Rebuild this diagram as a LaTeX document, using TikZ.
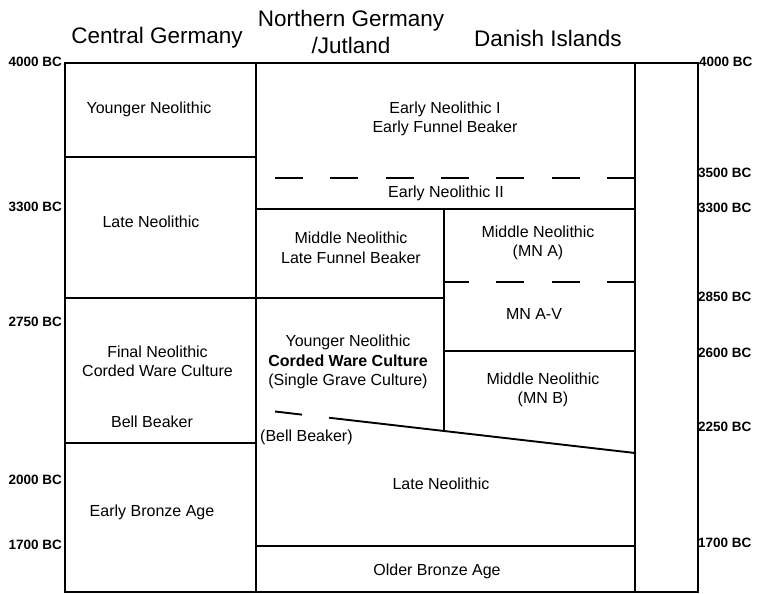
\documentclass[tikz,border=0pt]{standalone}
\usepackage{fontspec}
\setmainfont{Liberation Sans}
\begin{document}
\begin{tikzpicture}[x=1pt,y=-1pt,
  rule/.style={line width=1.9pt, line cap=rect},
  dashrule/.style={line width=1.9pt, dash pattern=on 28pt off 27.33pt},
  head/.style={font=\fontsize{22.5}{27}\selectfont, inner sep=0pt, align=center},
  cell/.style={font=\fontsize{16}{19.5}\selectfont, inner sep=0pt, align=center},
  dateL/.style={font=\fontsize{13.5}{16}\selectfont\bfseries, inner sep=0pt, anchor=east},
  dateR/.style={font=\fontsize{13.5}{16}\selectfont\bfseries, inner sep=0pt, anchor=west}]
\useasboundingbox (0,0) rectangle (758,594);

% frame and columns
\draw[rule] (65,63) rectangle (698,592);
\draw[rule] (256,63) -- (256,592);
\draw[rule] (635,63) -- (635,592);
% central germany rows
\draw[rule] (65,157) -- (256,157);
\draw[rule] (65,298) -- (256,298);
\draw[rule] (65,443) -- (256,443);
% northern / danish
\draw[dashrule] (275,178) -- (635,178);
\draw[rule] (256,209) -- (635,209);
\draw[rule] (444,209) -- (444,431);
\draw[rule] (256,298) -- (444,298);
\draw[dashrule] (635,282) -- (444,282);
\draw[rule] (444,351) -- (635,351);
\draw[line width=1.9pt, dash pattern=on 27.2pt off 27.2pt on 500pt off 0pt] (275,411.5) -- (635,453);
\draw[rule] (256,546) -- (635,546);

% headings
\node[head] (hcg) at (157,38) {Central Germany};
\node[head] (hng) at (351,32) {Northern Germany\\/Jutland};
\node[head] (hdi) at (548,38) {Danish Islands};

% left dates
\node[dateL] (l4000) at (62,62) {4000 BC};
\node[dateL] (l3300) at (62,207) {3300 BC};
\node[dateL] (l2750) at (62,322) {2750 BC};
\node[dateL] (l2000) at (62,480) {2000 BC};
\node[dateL] (l1700) at (62,545) {1700 BC};
% right dates
\node[dateR] (r4000) at (699,62) {4000 BC};
\node[dateR] (r3500) at (698,173) {3500 BC};
\node[dateR] (r3300) at (698,208) {3300 BC};
\node[dateR] (r2850) at (698,297) {2850 BC};
\node[dateR] (r2600) at (698,353) {2600 BC};
\node[dateR] (r2250) at (698,427) {2250 BC};
\node[dateR] (r1700) at (698,543) {1700 BC};

% central germany cells
\node[cell] (cyn) at (149,109) {Younger Neolithic};
\node[cell] (cln) at (151,222) {Late Neolithic};
\node[cell] (cfn) at (157.5,361.5) {Final Neolithic\\Corded Ware Culture};
\node[cell] (cbb) at (152,422) {Bell Beaker};
\node[cell] (cba) at (152,512) {Early Bronze Age};

% northern / danish cells
\node[cell] (en1) at (445,119) {Early Neolithic I\\Early Funnel Beaker};
\node[cell] (en2) at (446,193.5) {Early Neolithic II};
\node[cell] (mnl) at (351,248) {Middle Neolithic\\Late Funnel Beaker};
\node[cell] (mna) at (538,243) {Middle Neolithic\\(MN A)};
\node[cell] (mnav) at (534,313.5) {MN A-V};
\node[cell] (ynn) at (348,362) {Younger Neolithic\\\textbf{Corded Ware Culture}\\(Single Grave Culture)};
\node[cell] (mnb) at (543,390) {Middle Neolithic\\(MN B)};
\node[cell, anchor=west] (nbb) at (260,437.5) {(Bell Beaker)};
\node[cell] (nln) at (441,483.5) {Late Neolithic};
\node[cell] (oba) at (437,571) {Older Bronze Age};
\end{tikzpicture}
\end{document}
